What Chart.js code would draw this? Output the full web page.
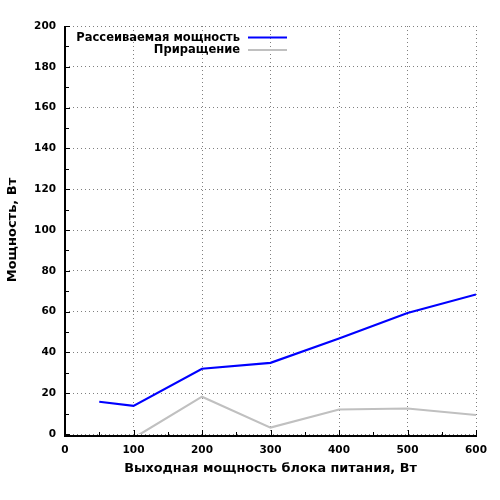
<!DOCTYPE html>
<html>
<head>
<meta charset="utf-8">
<script src="https://cdn.jsdelivr.net/npm/chart.js@4/dist/chart.umd.min.js"></script>
<style>
html,body{margin:0;padding:0;background:#fff;}
#wrap{width:500px;height:500px;}
</style>
</head>
<body>
<div id="wrap"><canvas id="c" width="500" height="500"></canvas></div>
<script>
const powerLevels = [50, 100, 200, 300, 400, 500, 600];
const dissipated = [15.8, 13.8, 32.0, 34.9, 46.8, 59.3, 68.4];
const increment = [null, -2.0, 18.3, 3.1, 12.0, 12.5, 9.3];
const seriesNames = ['Рассеиваемая мощность', 'Приращение'];
const xTitle = 'Выходная мощность блока питания, Вт';
const yTitle = 'Мощность, Вт';

const FONT = 'DejaVu Sans';

function pts(ys) {
  const out = [];
  powerLevels.forEach((x, i) => { if (ys[i] !== null) out.push({x: x, y: ys[i]}); });
  return out;
}

const tickPlugin = {
  id: 'ticksInside',
  afterDatasetsDraw(chart) {
    const ctx = chart.ctx;
    const xs = chart.scales.x, ys = chart.scales.y;
    const a = chart.chartArea;
    ctx.save();
    ctx.strokeStyle = '#000';
    ctx.lineWidth = 1;
    for (let v = 0; v <= 600; v += 50) {
      const px = Math.round(xs.getPixelForValue(v)) + 0.5;
      const len = (v % 100 === 0) ? 5 : 3;
      ctx.beginPath();
      ctx.moveTo(px, a.bottom + 1);
      ctx.lineTo(px, a.bottom + 1 - len);
      ctx.stroke();
    }
    for (let v = 0; v <= 200; v += 10) {
      const py = Math.round(ys.getPixelForValue(v)) + 0.5;
      const len = (v % 20 === 0) ? 5 : 4;
      ctx.beginPath();
      ctx.moveTo(a.left, py);
      ctx.lineTo(a.left + len, py);
      ctx.stroke();
    }
    ctx.lineWidth = 2;
    ctx.beginPath();
    ctx.moveTo(a.left, a.top);
    ctx.lineTo(a.left, a.bottom + 2);
    ctx.lineTo(a.right + 1, a.bottom + 2);
    ctx.stroke();
    ctx.restore();
  }
};

const legendPlugin = {
  id: 'insideLegend',
  afterDraw(chart) {
    const ctx = chart.ctx;
    const a = chart.chartArea;
    ctx.save();
    ctx.font = 'bold 11.5px "' + FONT + '"';
    ctx.textAlign = 'right';
    ctx.textBaseline = 'middle';
    const textRight = a.left + 175;
    chart.data.datasets.forEach((ds, i) => {
      const y = a.top + 12 + i * 12.5;
      ctx.fillStyle = '#000';
      ctx.fillText(ds.label, textRight, y);
      ctx.strokeStyle = ds.borderColor;
      ctx.lineWidth = 2;
      ctx.beginPath();
      ctx.moveTo(textRight + 8, y - 0.5);
      ctx.lineTo(textRight + 47, y - 0.5);
      ctx.stroke();
    });
    ctx.restore();
  }
};

new Chart(document.getElementById('c'), {
  type: 'line',
  data: {
    datasets: [
      { label: seriesNames[0], data: pts(dissipated), borderColor: '#0000ff', borderWidth: 2.2, pointRadius: 0, tension: 0, fill: false },
      { label: seriesNames[1], data: pts(increment), borderColor: '#c0c0c0', borderWidth: 2.2, pointRadius: 0, tension: 0, fill: false }
    ]
  },
  options: {
    responsive: false,
    animation: false,
    devicePixelRatio: 1,
    layout: { padding: { top: 26, right: 24, left: 0, bottom: 0 } },
    plugins: { legend: { display: false }, tooltip: { enabled: false } },
    scales: {
      x: {
        type: 'linear', min: 0, max: 600,
        afterFit(s) { s.height = 66; },
        ticks: { stepSize: 100, color: '#000', padding: 10, maxRotation: 0, font: { family: FONT, size: 10.5, weight: 'bold' } },
        grid: { color: '#808080', lineWidth: 1, drawTicks: false },
        border: { display: false, dash: [1, 3] },
        title: { display: true, text: xTitle, color: '#000', padding: { top: 0, bottom: 24 }, font: { family: FONT, size: 12.8, weight: 'bold' } }
      },
      y: {
        type: 'linear', min: 0, max: 200,
        afterFit(s) { s.width = 65; },
        ticks: { stepSize: 20, color: '#000', padding: 9, font: { family: FONT, size: 10.5, weight: 'bold' } },
        grid: { color: '#808080', lineWidth: 1, drawTicks: false },
        border: { display: false, dash: [1, 3] },
        title: { display: true, text: yTitle, color: '#000', padding: { top: 5, bottom: 0 }, font: { family: FONT, size: 13, weight: 'bold' } }
      }
    }
  },
  plugins: [tickPlugin, legendPlugin]
});
</script>
</body>
</html>
